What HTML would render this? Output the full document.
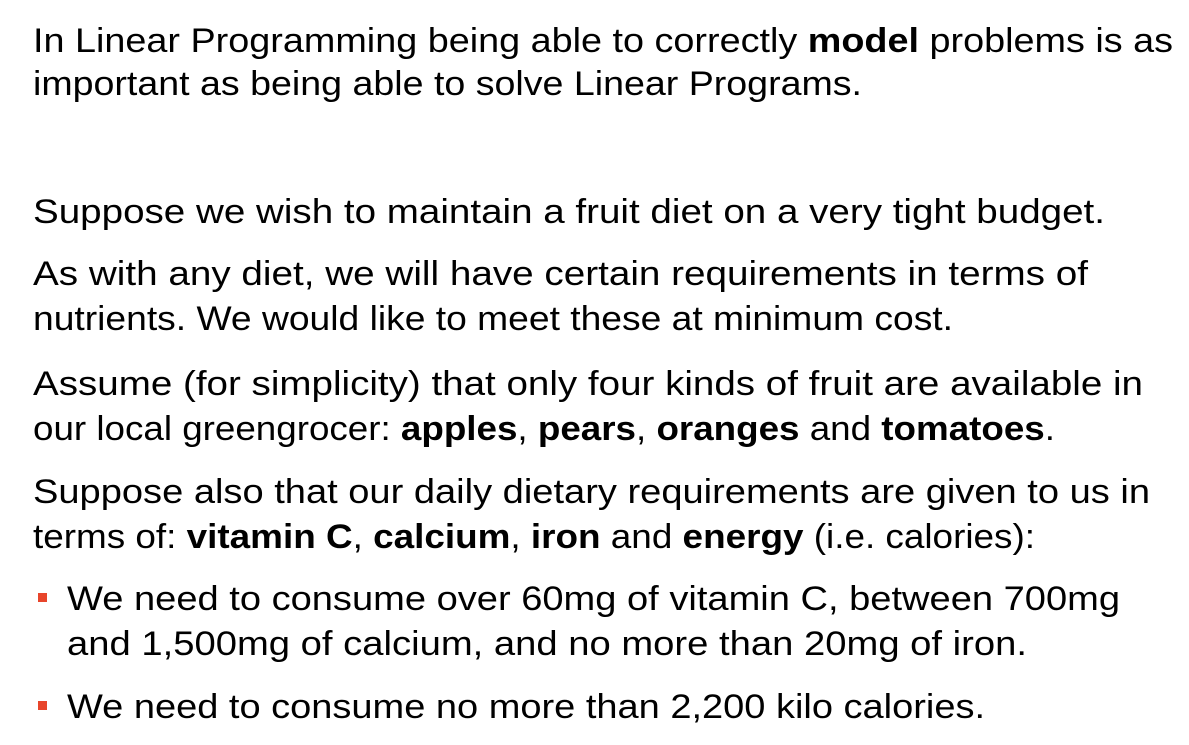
<!DOCTYPE html>
<html><head><meta charset="utf-8"><style>
html,body{margin:0;padding:0;background:#fff;}
svg{display:block;}
text{font-family:"Liberation Sans",sans-serif;font-size:34px;fill:#000;}
.b{font-weight:bold;}
</style></head><body>
<svg width="1189" height="745" viewBox="0 0 1189 745">
<text x="33" y="52" textLength="1140" lengthAdjust="spacingAndGlyphs">In Linear Programming being able to correctly <tspan class="b">model</tspan> problems is as</text>
<text x="33" y="95" textLength="829" lengthAdjust="spacingAndGlyphs">important as being able to solve Linear Programs.</text>
<text x="33" y="223" textLength="1072" lengthAdjust="spacingAndGlyphs">Suppose we wish to maintain a fruit diet on a very tight budget.</text>
<text x="33" y="285" textLength="1055" lengthAdjust="spacingAndGlyphs">As with any diet, we will have certain requirements in terms of</text>
<text x="33" y="330" textLength="920" lengthAdjust="spacingAndGlyphs">nutrients. We would like to meet these at minimum cost.</text>
<text x="33" y="395" textLength="1110" lengthAdjust="spacingAndGlyphs">Assume (for simplicity) that only four kinds of fruit are available in</text>
<text x="33" y="440" textLength="1022" lengthAdjust="spacingAndGlyphs">our local greengrocer: <tspan class="b">apples</tspan>, <tspan class="b">pears</tspan>, <tspan class="b">oranges</tspan> and <tspan class="b">tomatoes</tspan>.</text>
<text x="33" y="503" textLength="1117" lengthAdjust="spacingAndGlyphs">Suppose also that our daily dietary requirements are given to us in</text>
<text x="33" y="548" textLength="1002" lengthAdjust="spacingAndGlyphs">terms of: <tspan class="b">vitamin C</tspan>, <tspan class="b">calcium</tspan>, <tspan class="b">iron</tspan> and <tspan class="b">energy</tspan> (i.e. calories):</text>
<rect x="38" y="593" width="9" height="9" fill="#e8452b"/>
<text x="67" y="610" textLength="1053" lengthAdjust="spacingAndGlyphs">We need to consume over 60mg of vitamin C, between 700mg</text>
<text x="67" y="655" textLength="960" lengthAdjust="spacingAndGlyphs">and 1,500mg of calcium, and no more than 20mg of iron.</text>
<rect x="38" y="701" width="9" height="9" fill="#e8452b"/>
<text x="67" y="718" textLength="918" lengthAdjust="spacingAndGlyphs">We need to consume no more than 2,200 kilo calories.</text>
</svg>
</body></html>
